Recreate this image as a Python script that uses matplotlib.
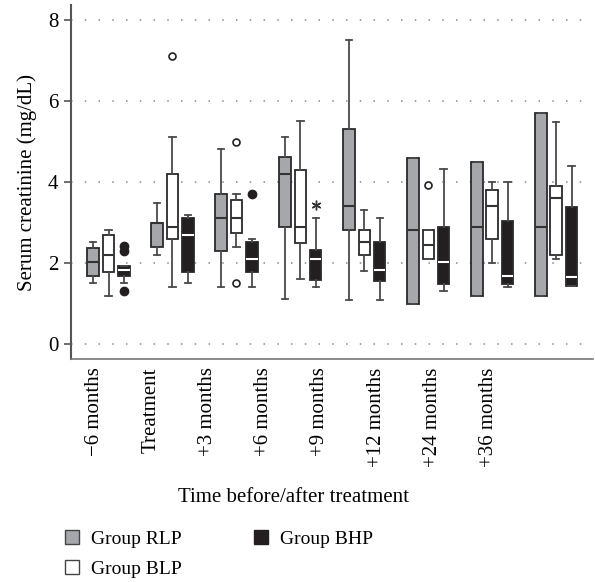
import numpy as np
import matplotlib
matplotlib.use("Agg")
import matplotlib.pyplot as plt
from matplotlib.patches import Patch

plt.rcParams["font.family"] = ["Liberation Serif", "DejaVu Serif"]

time_labels = ["\u22126 months", "Treatment", "+3 months", "+6 months",
               "+9 months", "+12 months", "+24 months", "+36 months"]

# Group RLP
rlp_whislo = [1.50, 2.20, 1.42, 1.11, 1.10, 1.00, 1.19, 1.19]
rlp_q1 = [1.69, 2.40, 2.31, 2.90, 2.81, 1.00, 1.19, 1.19]
rlp_med = [2.04, 3.00, 3.11, 4.21, 3.40, 2.81, 2.90, 2.90]
rlp_q3 = [2.37, 3.00, 3.70, 4.61, 5.31, 4.59, 4.50, 5.70]
rlp_whishi = [2.52, 3.48, 4.82, 5.12, 7.51, 4.59, 4.50, 5.70]
rlp_out = [[], [], [], [], [], [], [], []]

# Group BLP
blp_whislo = [1.20, 1.42, 2.40, 1.60, 1.81, 2.11, 2.00, 2.11]
blp_q1 = [1.79, 2.59, 2.74, 2.50, 2.20, 2.11, 2.59, 2.20]
blp_med = [2.20, 2.90, 3.11, 2.90, 2.51, 2.44, 3.40, 3.60]
blp_q3 = [2.70, 4.21, 3.56, 4.31, 2.82, 2.81, 3.81, 3.91]
blp_whishi = [2.82, 5.12, 3.70, 5.50, 3.32, 2.81, 4.01, 5.49]
blp_out = [[], [7.12], [5.00, 1.51], [], [], [3.92], [], []]

# Group BHP
bhp_whislo = [1.50, 1.50, 1.42, 1.41, 1.10, 1.30, 1.42, 1.44]
bhp_q1 = [1.69, 1.79, 1.79, 1.58, 1.57, 1.48, 1.48, 1.44]
bhp_med = [1.82, 2.70, 2.11, 2.11, 1.82, 2.03, 1.69, 1.67]
bhp_q3 = [1.92, 3.11, 2.52, 2.33, 2.52, 2.90, 3.03, 3.38]
bhp_whishi = [1.92, 3.20, 2.60, 3.11, 3.11, 4.32, 4.01, 4.41]
bhp_out = [[2.43, 2.31, 1.32], [], [3.72], [], [], [], [], []]
bhp_extreme = [[], [], [], [3.44], [], [], [], []]


def make_stats(lo, q1, med, q3, hi, out):
    stats = []
    for i in range(len(med)):
        stats.append({"whislo": lo[i], "q1": q1[i], "med": med[i], "q3": q3[i],
                      "whishi": hi[i], "fliers": out[i]})
    return stats


fig = plt.figure(figsize=(5.95, 5.82), dpi=100)
ax = fig.add_axes([0.119, 0.383, 0.877, 0.608])

x = np.arange(len(time_labels))
offset = 0.24
width = 0.18
wcol = "#4a4a4a"

groups = [
    (make_stats(rlp_whislo, rlp_q1, rlp_med, rlp_q3, rlp_whishi, rlp_out), -offset,
     "#a6a7ab", "#333333", dict(marker="o", markerfacecolor="white", markeredgecolor="#222", markersize=5)),
    (make_stats(blp_whislo, blp_q1, blp_med, blp_q3, blp_whishi, blp_out), 0,
     "white", "#333333", dict(marker="o", markerfacecolor="white", markeredgecolor="#222", markersize=5, markeredgewidth=1.2)),
    (make_stats(bhp_whislo, bhp_q1, bhp_med, bhp_q3, bhp_whishi, bhp_out), offset,
     "#231f20", "white", dict(marker="o", markerfacecolor="#231f20", markeredgecolor="#231f20", markersize=6)),
]

for stats, off, fc, medc, fp in groups:
    ax.bxp(stats, positions=x + off, widths=width, capwidths=width * 0.55,
           patch_artist=True, manage_ticks=False,
           boxprops=dict(facecolor=fc, edgecolor="#2a2a2a", linewidth=1.3),
           medianprops=dict(color=medc, linewidth=1.5),
           whiskerprops=dict(color=wcol, linewidth=1.3),
           capprops=dict(color=wcol, linewidth=1.3),
           flierprops=fp)

# extreme value marked with an asterisk
for i, vals in enumerate(bhp_extreme):
    for v in vals:
        ax.plot(x[i] + offset, v, marker=(6, 2, 0), color="#333", markersize=7,
                markeredgewidth=1.0, linestyle="none")

ax.set_ylim(-0.37, 8.37)
ax.set_xlim(-0.59, 7.57)
ax.set_yticks([0, 2, 4, 6, 8])
for yv in [0, 2, 4, 6, 8]:
    ax.axhline(yv, color="#888888", linewidth=1.1, linestyle=(0, (1, 8)), zorder=0)

label_pos = -0.214 + 0.88 * np.arange(len(time_labels))
ax.set_xticks(label_pos)
ax.set_xticklabels(time_labels, rotation=90, fontsize=15)
ax.tick_params(axis="x", length=0, pad=6)
ax.tick_params(axis="y", length=5, width=1.2, color="#555", labelsize=15, pad=4)

ax.spines["top"].set_visible(False)
ax.spines["right"].set_visible(False)
ax.spines["left"].set_color("#555555")
ax.spines["left"].set_linewidth(1.5)
ax.spines["bottom"].set_color("#777777")
ax.spines["bottom"].set_linewidth(1.2)

ax.set_ylabel("Serum creatinine (mg/dL)", fontsize=15, labelpad=8)
fig.text(0.493, 0.145, "Time before/after treatment", ha="center", va="center", fontsize=15)

handles = [Patch(facecolor="#a6a7ab", edgecolor="#444", label="Group RLP"),
           Patch(facecolor="white", edgecolor="#444", label="Group BLP"),
           Patch(facecolor="#231f20", edgecolor="#231f20", label="Group BHP")]
fig.legend(handles=handles, ncol=2, loc="upper left", bbox_to_anchor=(0.0956, 0.1025),
           frameon=False, fontsize=14, handlelength=0.75, handleheight=0.75,
           handletextpad=0.6, columnspacing=3.7, labelspacing=0.6, borderaxespad=0)

fig.savefig("out.png", dpi=100)
